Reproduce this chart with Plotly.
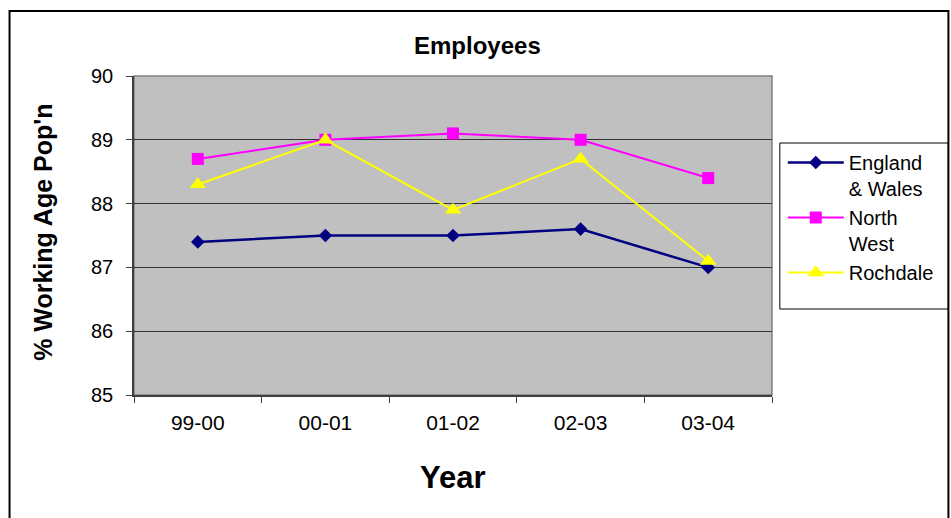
import plotly.graph_objects as go

# Survey years and employee rates (% of working age population)
years = ["99-00", "00-01", "01-02", "02-03", "03-04"]
england_wales = [87.4, 87.5, 87.5, 87.6, 87.0]
north_west = [88.7, 89.0, 89.1, 89.0, 88.4]
rochdale = [88.3, 89.0, 87.9, 88.7, 87.1]

series_names = ["England<br>& Wales", "North<br>West", "Rochdale"]
y_ticks = [85, 86, 87, 88, 89, 90]

W, H = 951, 518
# plot area in pixels
L, R, T, B = 134, 785, 76, 395
PW, PH = R - L, B - T


def px(x):
    return (x - L) / PW


def py(y):
    return (B - y) / PH


FONT = "Arial, Liberation Sans, sans-serif"

fig = go.Figure()
fig.add_trace(go.Scatter(
    x=years, y=england_wales, name=series_names[0], mode="lines+markers",
    line=dict(color="#000080", width=2.5),
    marker=dict(symbol="diamond", size=10.5, color="#000080"),
))
fig.add_trace(go.Scatter(
    x=years, y=north_west, name=series_names[1], mode="lines+markers",
    line=dict(color="#FF00FF", width=2),
    marker=dict(symbol="square", size=12, color="#FF00FF"),
))
fig.add_trace(go.Scatter(
    x=years, y=rochdale, name=series_names[2], mode="lines+markers",
    line=dict(color="#FFFF00", width=2),
    marker=dict(symbol="triangle-up", size=14.5, color="#FFFF00"),
))

fig.update_layout(
    width=W, height=H,
    margin=dict(l=L, r=W - R, t=T, b=H - B, pad=0),
    paper_bgcolor="white",
    plot_bgcolor="#C0C0C0",
    font=dict(family=FONT, color="black", size=20),
    showlegend=True,
    legend=dict(
        x=px(796), y=py(143), xanchor="left", yanchor="top",
        bgcolor="rgba(0,0,0,0)", borderwidth=0,
        font=dict(family=FONT, size=20, color="black"),
        itemwidth=56, valign="top", tracegroupgap=0,
        traceorder="normal",
    ),
    xaxis=dict(
        type="category", range=[-0.5, 4.5], tickson="boundaries",
        ticks="outside", ticklen=6, tickcolor="#404040", tickwidth=1,
        showline=True, linecolor="#404040", linewidth=1.5,
        showgrid=False, zeroline=False,
        tickfont=dict(family=FONT, size=21, color="black"),
        ticklabelstandoff=8,
    ),
    yaxis=dict(
        range=[85, 90], tickvals=y_ticks, ticks="outside", ticklen=6,
        tickcolor="#404040", tickwidth=1,
        showline=True, linecolor="#404040", linewidth=1.5,
        showgrid=True, gridcolor="#333333", gridwidth=1, zeroline=False,
        tickfont=dict(family=FONT, size=20, color="black"),
        ticklabelstandoff=9,
    ),
    shapes=[
        # gray border on the plot area
        dict(type="rect", xref="paper", yref="paper", x0=0, x1=1, y0=0, y1=1,
             line=dict(color="#808080", width=1.5), layer="below"),
        # outer chart frame
        dict(type="rect", xref="paper", yref="paper",
             x0=px(7), x1=px(965), y0=py(540), y1=py(11),
             line=dict(color="black", width=2)),
        # legend frame
        dict(type="rect", xref="paper", yref="paper",
             x0=px(793), x1=px(965), y0=py(309), y1=py(143),
             line=dict(color="black", width=1), fillcolor="rgba(0,0,0,0)"),
    ],
    annotations=[
        dict(text="<b>Employees</b>", xref="paper", yref="paper",
             x=px(485), y=py(46), xanchor="center", yanchor="middle",
             showarrow=False, font=dict(family=FONT, size=24, color="black")),
        dict(text="<b>Year</b>", xref="paper", yref="paper",
             x=px(459), y=py(477), xanchor="center", yanchor="middle",
             showarrow=False, font=dict(family=FONT, size=31, color="black")),
        dict(text="<b>% Working Age Pop'n</b>", xref="paper", yref="paper",
             x=px(41), y=py(232), xanchor="center", yanchor="middle",
             textangle=-90, showarrow=False,
             font=dict(family=FONT, size=25, color="black")),
    ],
)

fig.write_html("out.html")
